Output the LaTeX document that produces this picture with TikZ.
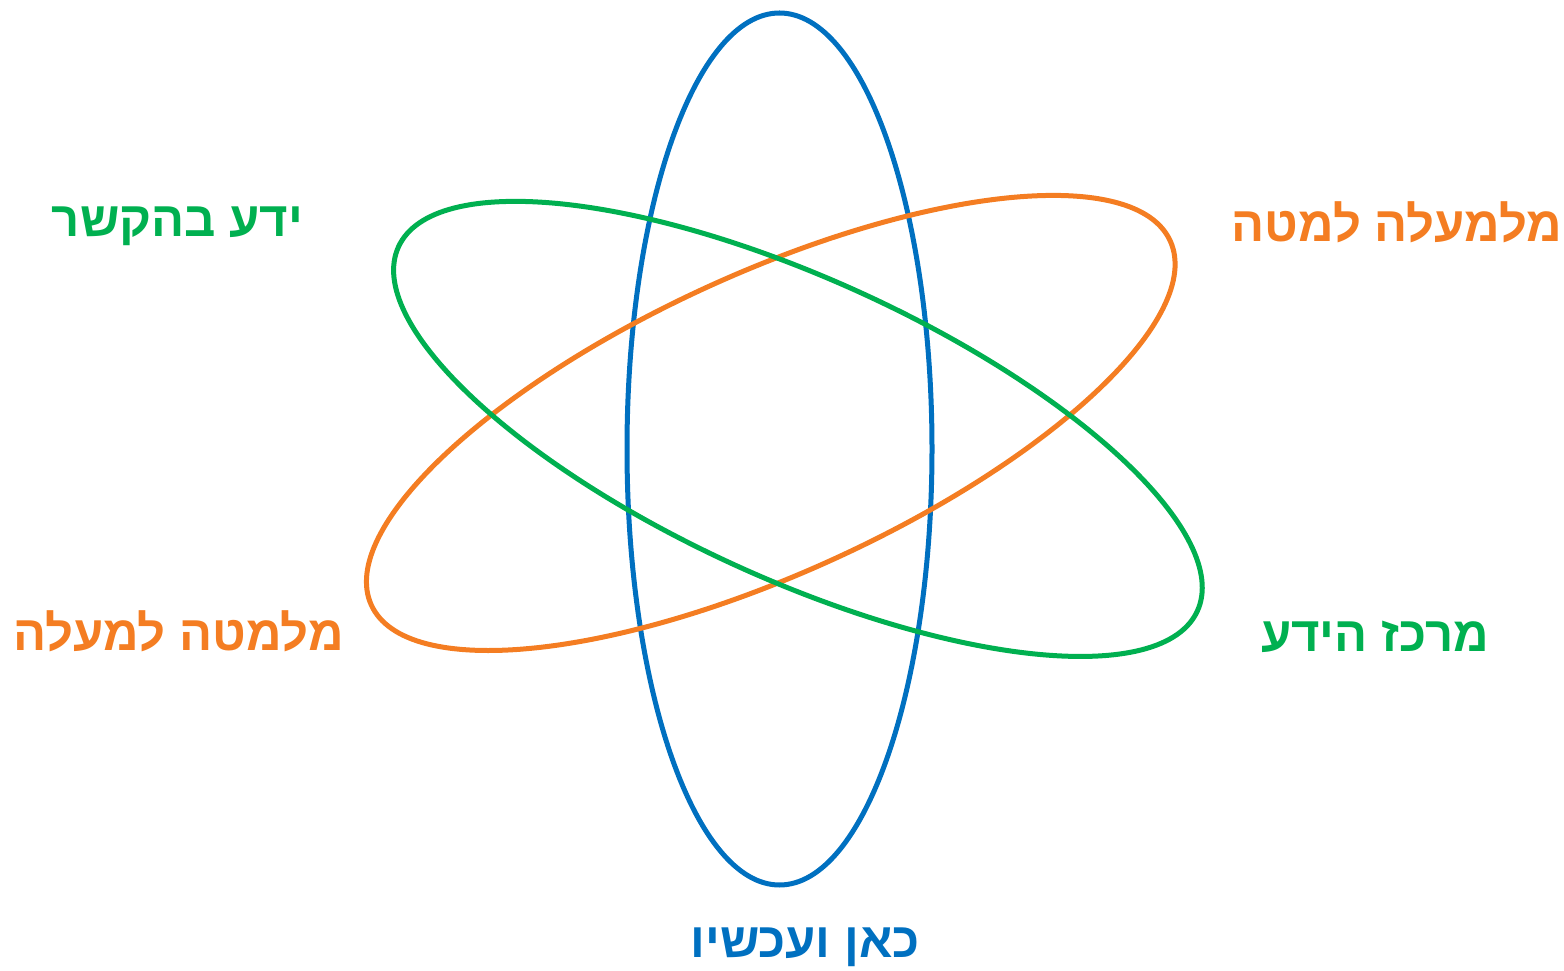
\documentclass[tikz,border=0pt]{standalone}
\usepackage{fontspec}
\TeXXeTstate=1
\newfontfamily\heb[Script=Hebrew]{Liberation Sans}
\definecolor{cblue}{HTML}{0070C0}
\definecolor{corange}{HTML}{F47D22}
\definecolor{cgreen}{HTML}{00B050}
\tikzset{
  orbit/.style={line width=5pt},
  lbl/.style={anchor=base, inner sep=0pt, font=\heb\bfseries\fontsize{49}{53}\selectfont},
}
\begin{document}
\begin{tikzpicture}[x=1pt,y=1pt]
\useasboundingbox (0,0) rectangle (1564,970);
\coordinate (cb) at (779.5,521);
\coordinate (co) at (770.8,547.1);
\coordinate (cg) at (798,541.1);
\draw[orbit, cblue] (cb) ellipse [x radius=152.5pt, y radius=436pt];
\draw[orbit, corange, rotate around={24.5:(co)}] (co) ellipse [x radius=439pt, y radius=150pt];
\draw[orbit, cgreen, rotate around={-24.5:(cg)}] (cg) ellipse [x radius=439pt, y radius=150pt];
\node[lbl, text=cgreen] (tl) at (177.5,733) {\beginR ידע בהקשר\endR};
\node[lbl, text=corange] (tr) at (1397,728) {\beginR מלמעלה למטה\endR};
\node[lbl, text=corange] (bl) at (178.5,319) {\beginR מלמטה למעלה\endR};
\node[lbl, text=cgreen] (br) at (1375,318) {\beginR מרכז הידע\endR};
\node[lbl, text=cblue] (b) at (805,13) {\beginR כאן ועכשיו\endR};
\end{tikzpicture}
\end{document}
